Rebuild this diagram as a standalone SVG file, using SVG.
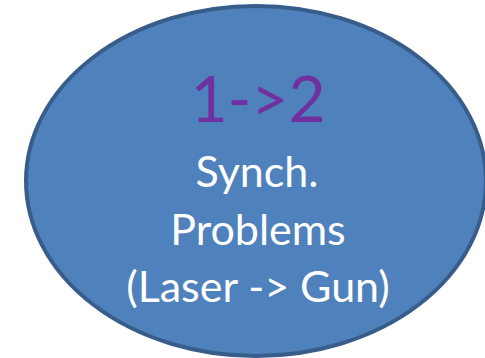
<svg xmlns="http://www.w3.org/2000/svg" width="485" height="358" viewBox="0 0 485 358">
<style>
.node{fill:#4F81BD;stroke:#385D8A;stroke-width:4}
.t{font-family:Lato,"Open Sans","Liberation Sans",sans-serif;text-anchor:middle;fill:#FFFFFF;font-size:43px}
.h{fill:#7030A0;font-size:64px}
</style>
<rect width="485" height="358" fill="#FFFFFF"/>
<g id="node1">
<ellipse class="node" cx="256" cy="181" rx="230" ry="175"/>
<text class="t h" x="258" y="122">1-&gt;2</text>
<text class="t" x="257" y="187">Synch.</text>
<text class="t" x="258" y="245">Problems</text>
<text class="t" x="258" y="302">(Laser -&gt; Gun)</text>
</g>
<g id="connectors"></g>
</svg>
